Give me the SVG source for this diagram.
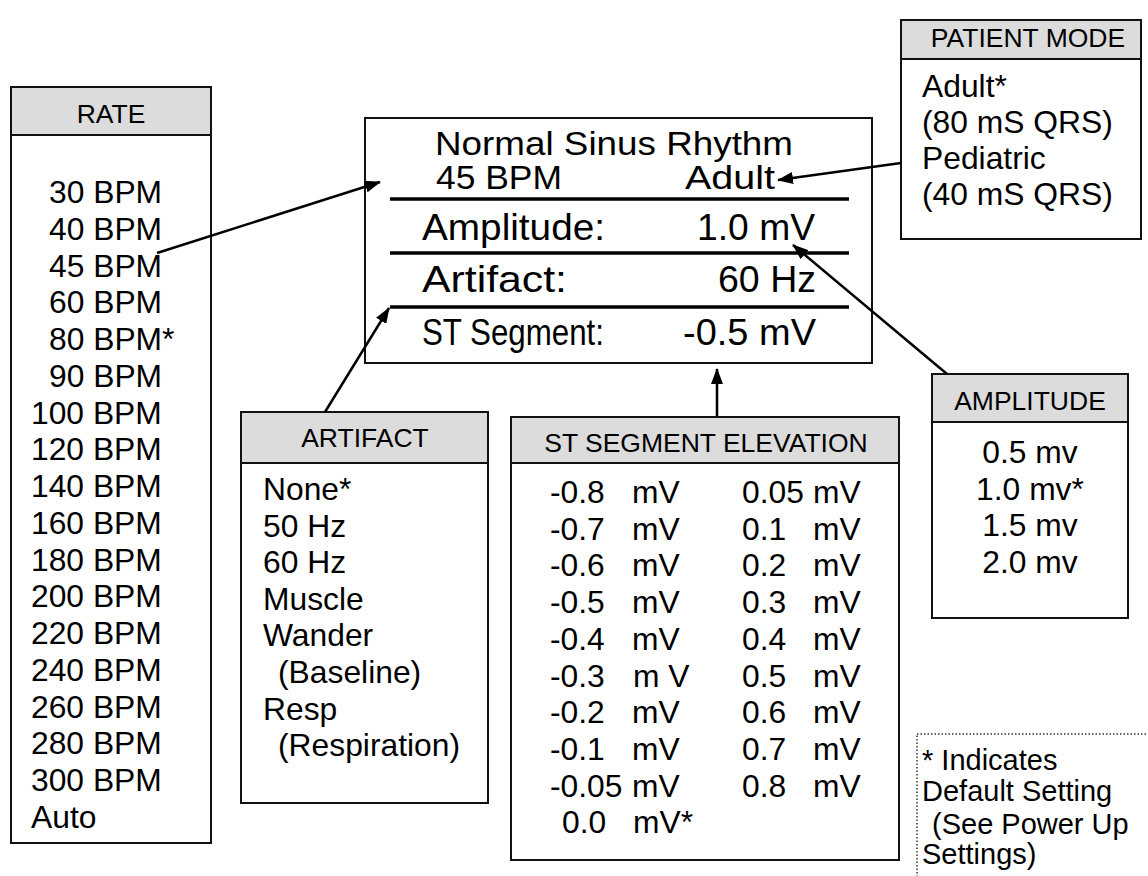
<svg xmlns="http://www.w3.org/2000/svg" width="1148" height="876" viewBox="0 0 1148 876">
<defs>
<marker id="ah" markerUnits="userSpaceOnUse" viewBox="0 0 16 12" markerWidth="16" markerHeight="12" refX="15" refY="6" orient="auto">
<path d="M0,0 L16,6 L0,12 z" fill="#000"/>
</marker>
</defs>
<style>
text{font-family:"Liberation Sans",Arial,sans-serif;fill:#000}
.hdr{fill:#dcdcdc;stroke:#111;stroke-width:2}
.box{fill:#fff;stroke:#111;stroke-width:2}
.ht{font-size:26.5px;text-anchor:middle}
.b{font-size:31.8px}
.fn{font-size:29px}
.d1{font-size:33px}
.d2{font-size:37px}
.sep{stroke:#000;stroke-width:3.5}
.con{stroke:#000;stroke-width:2.5;fill:none;marker-end:url(#ah)}
</style>
<rect width="1148" height="876" fill="#fff"/>

<g id="display">
<rect class="box" x="365" y="118" width="507" height="245"/>
<line class="sep" x1="390" y1="199" x2="849" y2="199"/>
<line class="sep" x1="390" y1="253" x2="849" y2="253"/>
<line class="sep" x1="390" y1="307" x2="849" y2="307"/>
<text class="d1" x="435" y="155" textLength="358" lengthAdjust="spacingAndGlyphs">Normal Sinus Rhythm</text>
<text class="d1" x="436" y="189" textLength="126" lengthAdjust="spacingAndGlyphs">45 BPM</text>
<text class="d1" x="685" y="189" textLength="90" lengthAdjust="spacingAndGlyphs">Adult</text>
<text class="d2" x="422" y="240" textLength="183" lengthAdjust="spacingAndGlyphs">Amplitude:</text>
<text class="d2" x="697" y="240" textLength="118" lengthAdjust="spacingAndGlyphs">1.0 mV</text>
<text class="d2" x="422" y="292" textLength="145" lengthAdjust="spacingAndGlyphs">Artifact:</text>
<text class="d2" x="718" y="292" textLength="98" lengthAdjust="spacingAndGlyphs">60 Hz</text>
<text class="d2" x="422" y="345" textLength="182" lengthAdjust="spacingAndGlyphs">ST Segment:</text>
<text class="d2" x="683" y="345" textLength="133" lengthAdjust="spacingAndGlyphs">-0.5 mV</text>
</g>

<g id="rate">
<rect class="box" x="11" y="87" width="200" height="756"/>
<rect class="hdr" x="11" y="87" width="200" height="48"/>
<text class="ht" x="111" y="123">RATE</text>
<text class="b" x="49" y="203">30 BPM</text>
<text class="b" x="49" y="239.8">40 BPM</text>
<text class="b" x="49" y="276.5">45 BPM</text>
<text class="b" x="49" y="313.3">60 BPM</text>
<text class="b" x="49" y="350">80 BPM*</text>
<text class="b" x="49" y="386.8">90 BPM</text>
<text class="b" x="31" y="423.6">100 BPM</text>
<text class="b" x="31" y="460.3">120 BPM</text>
<text class="b" x="31" y="497.1">140 BPM</text>
<text class="b" x="31" y="533.8">160 BPM</text>
<text class="b" x="31" y="570.6">180 BPM</text>
<text class="b" x="31" y="607.4">200 BPM</text>
<text class="b" x="31" y="644.1">220 BPM</text>
<text class="b" x="31" y="680.9">240 BPM</text>
<text class="b" x="31" y="717.6">260 BPM</text>
<text class="b" x="31" y="754.4">280 BPM</text>
<text class="b" x="31" y="791.2">300 BPM</text>
<text class="b" x="31" y="827.9">Auto</text>
</g>

<g id="patient-mode">
<rect class="box" x="901" y="20" width="240" height="219"/>
<rect class="hdr" x="901" y="20" width="240" height="39"/>
<text class="ht" x="1028" y="47">PATIENT MODE</text>
<text class="b" x="922" y="97">Adult*</text>
<text class="b" x="922" y="133">(80 mS QRS)</text>
<text class="b" x="922" y="169">Pediatric</text>
<text class="b" x="922" y="205">(40 mS QRS)</text>
</g>

<g id="artifact">
<rect class="box" x="241" y="412" width="247" height="391"/>
<rect class="hdr" x="241" y="412" width="247" height="51"/>
<text class="ht" x="365" y="447">ARTIFACT</text>
<text class="b" x="263" y="500">None*</text>
<text class="b" x="263" y="536.6">50 Hz</text>
<text class="b" x="263" y="573.2">60 Hz</text>
<text class="b" x="263" y="609.8">Muscle</text>
<text class="b" x="263" y="646.4">Wander</text>
<text class="b" x="278" y="683">(Baseline)</text>
<text class="b" x="263" y="719.6">Resp</text>
<text class="b" x="278" y="756.2">(Respiration)</text>
</g>

<g id="st-segment">
<rect class="box" x="511" y="417" width="388" height="443"/>
<rect class="hdr" x="511" y="417" width="388" height="46"/>
<text class="ht" x="706" y="452">ST SEGMENT ELEVATION</text>
<text class="b" x="550" y="503">-0.8</text><text class="b" x="632" y="503">mV</text>
<text class="b" x="550" y="539.7">-0.7</text><text class="b" x="632" y="539.7">mV</text>
<text class="b" x="550" y="576.4">-0.6</text><text class="b" x="632" y="576.4">mV</text>
<text class="b" x="550" y="613.1">-0.5</text><text class="b" x="632" y="613.1">mV</text>
<text class="b" x="550" y="649.8">-0.4</text><text class="b" x="632" y="649.8">mV</text>
<text class="b" x="550" y="686.5">-0.3</text><text class="b" x="633" y="686.5">m V</text>
<text class="b" x="550" y="723.2">-0.2</text><text class="b" x="632" y="723.2">mV</text>
<text class="b" x="550" y="759.9">-0.1</text><text class="b" x="632" y="759.9">mV</text>
<text class="b" x="550" y="796.6">-0.05</text><text class="b" x="632" y="796.6">mV</text>
<text class="b" x="562" y="833.3">0.0</text><text class="b" x="633" y="833.3">mV*</text>
<text class="b" x="742" y="503">0.05</text><text class="b" x="813" y="503">mV</text>
<text class="b" x="742" y="539.7">0.1</text><text class="b" x="813" y="539.7">mV</text>
<text class="b" x="742" y="576.4">0.2</text><text class="b" x="813" y="576.4">mV</text>
<text class="b" x="742" y="613.1">0.3</text><text class="b" x="813" y="613.1">mV</text>
<text class="b" x="742" y="649.8">0.4</text><text class="b" x="813" y="649.8">mV</text>
<text class="b" x="742" y="686.5">0.5</text><text class="b" x="813" y="686.5">mV</text>
<text class="b" x="742" y="723.2">0.6</text><text class="b" x="813" y="723.2">mV</text>
<text class="b" x="742" y="759.9">0.7</text><text class="b" x="813" y="759.9">mV</text>
<text class="b" x="742" y="796.6">0.8</text><text class="b" x="813" y="796.6">mV</text>
</g>

<g id="amplitude">
<rect class="box" x="932" y="374" width="196" height="244"/>
<rect class="hdr" x="932" y="374" width="196" height="48"/>
<text class="ht" x="1030" y="410">AMPLITUDE</text>
<text class="b" x="1030" y="463" text-anchor="middle">0.5 mv</text>
<text class="b" x="1030" y="499.5" text-anchor="middle">1.0 mv*</text>
<text class="b" x="1030" y="536" text-anchor="middle">1.5 mv</text>
<text class="b" x="1030" y="572.5" text-anchor="middle">2.0 mv</text>
</g>

<g id="note">
<rect x="917" y="734" width="260" height="200" fill="none" stroke="#333" stroke-width="1.5" stroke-dasharray="1.5 2"/>
<text class="fn" x="922" y="770">* Indicates</text>
<text class="fn" x="922" y="801">Default Setting</text>
<text class="fn" x="932" y="834">(See Power Up</text>
<text class="fn" x="922" y="864">Settings)</text>
</g>

<g id="connectors">
<line class="con" x1="157" y1="253" x2="380" y2="182"/>
<line class="con" x1="901" y1="163" x2="778" y2="180"/>
<line class="con" x1="947" y1="374" x2="793" y2="245"/>
<line class="con" x1="325" y1="412" x2="389" y2="308"/>
<line class="con" x1="717" y1="416" x2="717" y2="369"/>
</g>
</svg>
